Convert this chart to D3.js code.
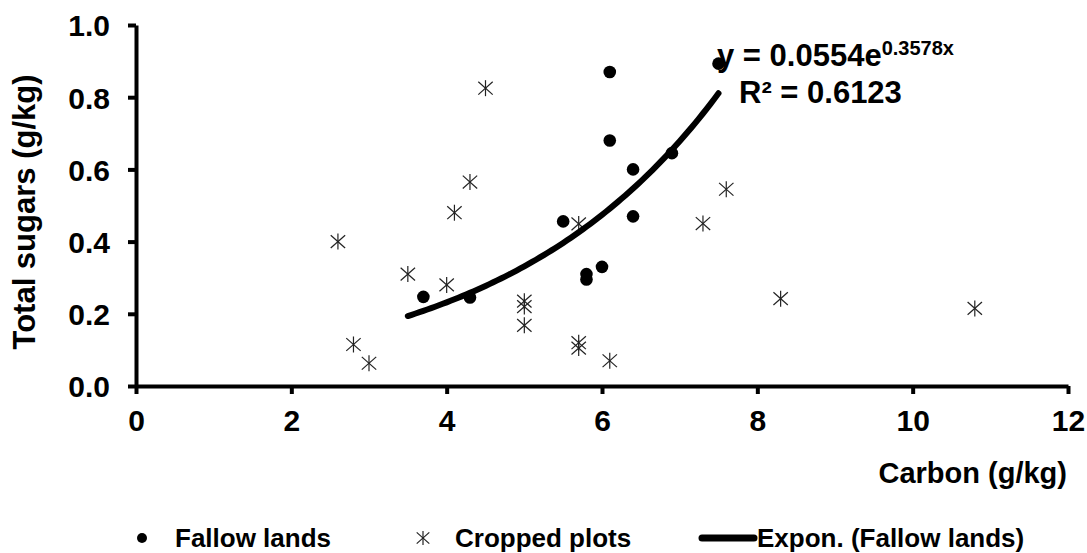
<!DOCTYPE html>
<html>
<head>
<meta charset="utf-8">
<script src="https://cdn.jsdelivr.net/npm/d3@7"></script>
<style>
  body { margin: 0; background: #fff; }
  text { font-family: "Liberation Sans", Arial, sans-serif; font-weight: bold; fill: #000; }
</style>
</head>
<body>
<div class="canvas"></div>
<script>
// data
const fallowX = [3.7, 4.3, 5.5, 5.8, 5.8, 6.0, 6.1, 6.1, 6.4, 6.4, 6.9, 7.5];
const fallowY = [0.247, 0.245, 0.456, 0.31, 0.295, 0.33, 0.87, 0.68, 0.60, 0.47, 0.645, 0.893];

const croppedX = [2.6, 2.8, 3.0, 3.5, 4.0, 4.1, 4.3, 4.5, 5.0, 5.0, 5.0, 5.7, 5.7, 5.7, 6.1, 7.3, 7.6, 8.3, 10.8];
const croppedY = [0.40, 0.115, 0.063, 0.31, 0.28, 0.48, 0.565, 0.825, 0.235, 0.22, 0.168, 0.12, 0.105, 0.449, 0.07, 0.45, 0.545, 0.242, 0.215];

// fitted trendline shown in the chart
const trendA = 0.0554;
const trendB = 0.3578;
const trendRange = [3.5, 7.5];

const xTicks = [0, 2, 4, 6, 8, 10, 12];
const yTicks = [0, 0.2, 0.4, 0.6, 0.8, 1.0];
const legendLabels = ['Fallow lands', 'Cropped plots', 'Expon. (Fallow lands)'];

const WIDTH = 1087, HEIGHT = 553;
const MARGIN = { left: 136, top: 25, right: 19, bottom: 167 };
const GRAPH_WIDTH = WIDTH - MARGIN.left - MARGIN.right;
const GRAPH_HEIGHT = HEIGHT - MARGIN.top - MARGIN.bottom;

const svg = d3.select('.canvas').append('svg')
  .attr('width', WIDTH)
  .attr('height', HEIGHT);

const graph = svg.append('g')
  .attr('transform', `translate(${MARGIN.left}, ${MARGIN.top})`);

//scales
const x = d3.scaleLinear().domain([0, 12]).range([0, GRAPH_WIDTH]);
const y = d3.scaleLinear().domain([0, 1]).range([GRAPH_HEIGHT, 0]);

//axes
const xAxis = d3.axisBottom(x).tickValues(xTicks).tickFormat(d3.format('d'))
  .tickSizeInner(8).tickSizeOuter(0).tickPadding(16);
const yAxis = d3.axisLeft(y).tickValues(yTicks).tickFormat(d3.format('.1f'))
  .tickSizeInner(8).tickSizeOuter(0).tickPadding(18);

const xAxisGroup = graph.append('g')
  .attr('class', 'x-axis')
  .attr('transform', `translate(0, ${GRAPH_HEIGHT})`)
  .call(xAxis);
const yAxisGroup = graph.append('g')
  .attr('class', 'y-axis')
  .call(yAxis);

[xAxisGroup, yAxisGroup].forEach(g => {
  g.select('.domain').attr('stroke', '#000').attr('stroke-width', 4);
  g.selectAll('.tick line').attr('stroke', '#000').attr('stroke-width', 4);
  g.selectAll('.tick text').style('font-size', '30px');
});
xAxisGroup.selectAll('.tick text').attr('dy', '0.71em');
yAxisGroup.selectAll('.tick text').attr('dy', '0.36em');

//asterisk marker
function asterisk(sel, s) {
  sel.append('line').attr('x1', 0).attr('y1', -s).attr('x2', 0).attr('y2', s);
  sel.append('line').attr('x1', -s * 0.9).attr('y1', -s * 0.8).attr('x2', s * 0.9).attr('y2', s * 0.8);
  sel.append('line').attr('x1', -s * 0.9).attr('y1', s * 0.8).attr('x2', s * 0.9).attr('y2', -s * 0.8);
}

//fallow dots
graph.append('g').selectAll('circle')
  .data(fallowX.map((v, i) => [v, fallowY[i]]))
  .join('circle')
  .attr('cx', d => x(d[0]))
  .attr('cy', d => y(d[1]))
  .attr('r', 6.3)
  .attr('fill', '#000');

//cropped asterisks
graph.append('g')
  .attr('stroke', '#222')
  .attr('stroke-width', 1.2)
  .selectAll('g')
  .data(croppedX.map((v, i) => [v, croppedY[i]]))
  .join('g')
  .attr('transform', d => `translate(${x(d[0])}, ${y(d[1])})`)
  .each(function() { asterisk(d3.select(this), 8); });

//trendline
const trendPts = d3.range(trendRange[0], trendRange[1] + 0.001, 0.05)
  .map(v => [v, trendA * Math.exp(trendB * v)]);
const line = d3.line()
  .x(d => x(d[0]))
  .y(d => y(d[1]));
graph.append('path')
  .datum(trendPts)
  .attr('d', line)
  .attr('fill', 'none')
  .attr('stroke', '#000')
  .attr('stroke-width', 6)
  .attr('stroke-linecap', 'round');

//equation
const eq = svg.append('text')
  .attr('x', 717)
  .attr('y', 66)
  .style('font-size', '31px');
eq.append('tspan').text('y = 0.0554e');
eq.append('tspan').attr('dy', -11).style('font-size', '20px').text('0.3578x');
svg.append('text')
  .attr('x', 739)
  .attr('y', 103)
  .style('font-size', '31px')
  .text('R² = 0.6123');

//axis titles
svg.append('text')
  .attr('x', 1067)
  .attr('y', 483)
  .attr('text-anchor', 'end')
  .style('font-size', '29px')
  .text('Carbon (g/kg)');
svg.append('text')
  .attr('transform', 'translate(35, 212) rotate(-90)')
  .attr('text-anchor', 'middle')
  .style('font-size', '31px')
  .text('Total sugars (g/kg)');

//legend
const legend = svg.append('g');
legend.append('circle').attr('cx', 142).attr('cy', 538).attr('r', 5).attr('fill', '#000');
legend.append('text').attr('x', 175).attr('y', 547).style('font-size', '26px').text(legendLabels[0]);
legend.append('g')
  .attr('transform', 'translate(423, 538)')
  .attr('stroke', '#222')
  .attr('stroke-width', 1.2)
  .call(g => asterisk(g, 7));
legend.append('text').attr('x', 455).attr('y', 547).style('font-size', '26px').text(legendLabels[1]);
legend.append('line')
  .attr('x1', 702).attr('y1', 538).attr('x2', 754).attr('y2', 538)
  .attr('stroke', '#000').attr('stroke-width', 7).attr('stroke-linecap', 'round');
legend.append('text').attr('x', 757).attr('y', 547).style('font-size', '26px').text(legendLabels[2]);
</script>
</body>
</html>
